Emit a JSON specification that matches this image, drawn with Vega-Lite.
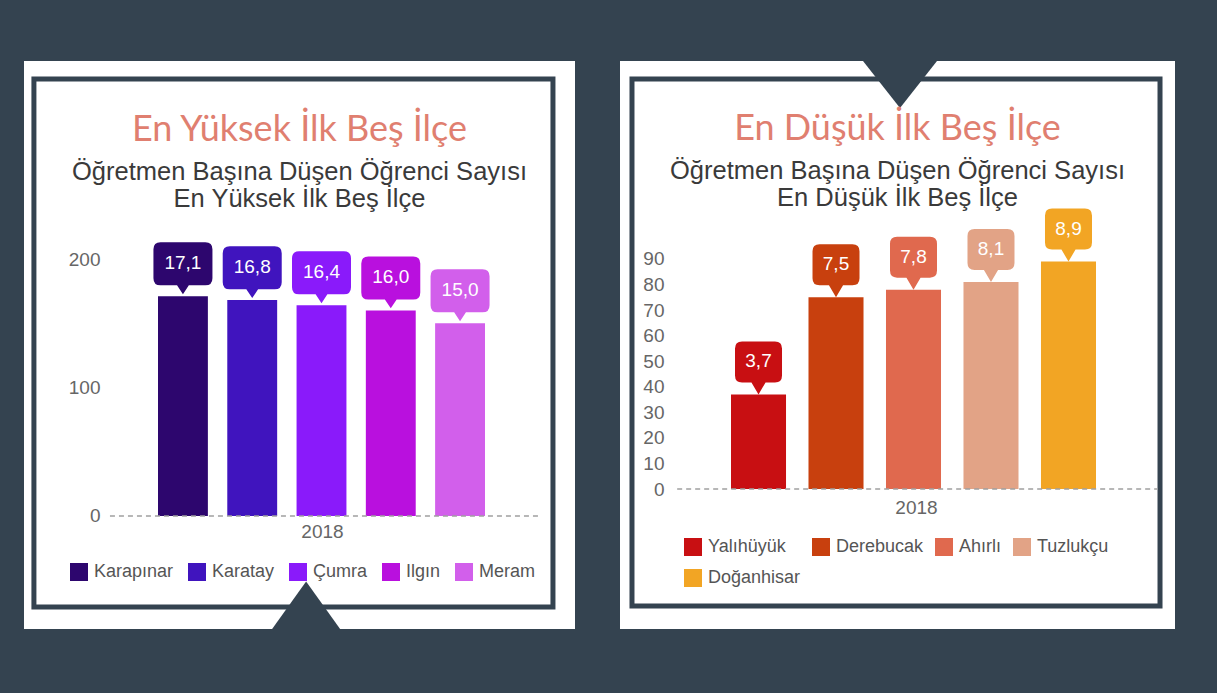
{
  "$schema": "https://vega.github.io/schema/vega-lite/v6.json",
  "background": "#344350",
  "padding": {"left": 24, "top": 60, "right": 42, "bottom": 65},
  "spacing": 45,
  "resolve": {"scale": {"color": "independent"}, "legend": {"color": "independent"}},
  "config": {
    "view": {"fill": "white", "stroke": null},
    "axis": {"labelFont": "Liberation Sans", "titleFont": "Liberation Sans", "grid": false},
    "legend": {"labelFont": "Liberation Sans"},
    "title": {"font": "Lato", "subtitleFont": "Liberation Sans"}
  },
  "hconcat": [
    {
      "width": 551,
      "height": 568,
      "title": {
        "text": "En Yüksek İlk Beş İlçe",
        "subtitle": ["Öğretmen Başına Düşen Öğrenci Sayısı", "En Yüksek İlk Beş İlçe"],
        "anchor": "middle",
        "frame": "group",
        "offset": -152,
        "fontSize": 36,
        "fontWeight": "normal",
        "color": "#e07f70",
        "subtitleFontSize": 25.5,
        "subtitleColor": "#3a3a3a",
        "subtitleLineHeight": 27,
        "subtitlePadding": 11
      },
      "data": {"values": [
        {"ilce": "Karapınar", "deger": 171, "etiket": "17,1"},
        {"ilce": "Karatay", "deger": 168, "etiket": "16,8"},
        {"ilce": "Çumra", "deger": 164, "etiket": "16,4"},
        {"ilce": "Ilgın", "deger": 160, "etiket": "16,0"},
        {"ilce": "Meram", "deger": 150, "etiket": "15,0"}
      ]},
      "resolve": {"scale": {"x": "independent"}, "axis": {"x": "independent", "y": "independent"}},
      "layer": [
        {
          "encoding": {
            "x": {"field": "ilce", "type": "nominal", "sort": null,
              "scale": {"type": "band", "paddingInner": 0.28, "paddingOuter": 0, "range": [134, 461]},
              "axis": {"title": "2018", "labels": false, "ticks": false, "domain": false, "offset": -113, "titlePadding": 6, "titleX": 298, "titleFontSize": 19, "titleFontWeight": "normal", "titleColor": "#666666"}},
            "y": {"field": "deger", "type": "quantitative",
              "scale": {"domain": [-87.94, 354.09], "nice": false, "zero": false},
              "axis": {"values": [0, 100, 200], "title": null, "domain": false, "ticks": false, "tickSize": 0, "labelPadding": 0, "offset": -76, "labelFontSize": 19, "labelColor": "#666666"}}
          },
          "layer": [
            {
              "mark": {"type": "bar"},
              "encoding": {
                "color": {"field": "ilce", "type": "nominal", "sort": null,
                  "scale": {"domain": ["Karapınar", "Karatay", "Çumra", "Ilgın", "Meram"], "range": ["#2d066e", "#4014be", "#8a1afa", "#b910de", "#d25feb"]},
                  "legend": {"orient": "none", "legendX": 46, "legendY": 502, "direction": "horizontal", "columns": 5, "title": null, "symbolType": "square", "symbolSize": 324, "symbolStrokeWidth": 0, "symbolOpacity": 1, "labelFontSize": 18, "labelColor": "#555555", "labelOffset": 6, "columnPadding": 14, "padding": 0}}
              }
            },
            {
              "mark": {"type": "point", "shape": "M0,-0.07L-0.2,-0.37L-0.76,-0.37Q-1,-0.37 -1,-0.61L-1,-1.59Q-1,-1.83 -0.76,-1.83L0.76,-1.83Q1,-1.83 1,-1.59L1,-0.61Q1,-0.37 0.76,-0.37L0.2,-0.37Z", "size": 3481, "filled": true, "opacity": 1, "strokeWidth": 0},
              "encoding": {
                "color": {"field": "ilce", "type": "nominal", "sort": null,
                  "scale": {"domain": ["Karapınar", "Karatay", "Çumra", "Ilgın", "Meram"], "range": ["#2d066e", "#4014be", "#8a1afa", "#b910de", "#d25feb"]},
                  "legend": null}
              }
            },
            {
              "mark": {"type": "text", "dy": -33, "color": "#ffffff", "fontSize": 19, "font": "Liberation Sans", "baseline": "middle"},
              "encoding": {"text": {"field": "etiket"}}
            }
          ]
        },
        {
          "data": {"values": [{}]},
          "layer": [
            {
              "mark": {"type": "rect", "fillOpacity": 0, "stroke": "#344350", "strokeWidth": 5},
              "encoding": {
                "x": {"datum": 0.018, "type": "quantitative", "scale": {"domain": [0, 1], "nice": false, "zero": false}, "axis": null},
                "x2": {"datum": 0.960},
                "y": {"datum": 340.1, "type": "quantitative", "scale": {"domain": [-87.94, 354.09], "nice": false, "zero": false}, "axis": null},
                "y2": {"datum": -70.8}
              }
            },
            {
              "mark": {"type": "rule", "color": "#a0a0a0", "strokeWidth": 1.5, "strokeDash": [5, 4]},
              "encoding": {
                "x": {"datum": 0.156, "type": "quantitative", "scale": {"domain": [0, 1], "nice": false, "zero": false}, "axis": null},
                "x2": {"datum": 0.940},
                "y": {"datum": 0, "type": "quantitative", "scale": {"domain": [-87.94, 354.09], "nice": false, "zero": false}, "axis": null}
              }
            },
            {
              "mark": {"type": "point", "shape": "M-1,0.7L0,-0.7L1,0.7Z", "size": 4624, "filled": true, "opacity": 1, "color": "#344350", "strokeWidth": 0},
              "encoding": {
                "x": {"datum": 0.512, "type": "quantitative", "scale": {"domain": [0, 1], "nice": false, "zero": false}, "axis": null},
                "y": {"datum": -69.4, "type": "quantitative", "scale": {"domain": [-87.94, 354.09], "nice": false, "zero": false}, "axis": null}
              }
            }
          ]
        }
      ]
    },
    {
      "width": 555,
      "height": 568,
      "title": {
        "text": "En Düşük İlk Beş İlçe",
        "subtitle": ["Öğretmen Başına Düşen Öğrenci Sayısı", "En Düşük İlk Beş İlçe"],
        "anchor": "middle",
        "frame": "group",
        "offset": -152,
        "fontSize": 36,
        "fontWeight": "normal",
        "color": "#e07f70",
        "subtitleFontSize": 25.5,
        "subtitleColor": "#3a3a3a",
        "subtitleLineHeight": 27,
        "subtitlePadding": 11
      },
      "data": {"values": [
        {"ilce": "Yalıhüyük", "deger": 37, "etiket": "3,7"},
        {"ilce": "Derebucak", "deger": 75, "etiket": "7,5"},
        {"ilce": "Ahırlı", "deger": 78, "etiket": "7,8"},
        {"ilce": "Tuzlukçu", "deger": 81, "etiket": "8,1"},
        {"ilce": "Doğanhisar", "deger": 89, "etiket": "8,9"}
      ]},
      "resolve": {"scale": {"x": "independent"}, "axis": {"x": "independent", "y": "independent"}},
      "layer": [
        {
          "encoding": {
            "x": {"field": "ilce", "type": "nominal", "sort": null,
              "scale": {"type": "band", "paddingInner": 0.29, "paddingOuter": 0, "range": [111, 476]},
              "axis": {"title": "2018", "labels": false, "ticks": false, "domain": false, "offset": -140, "titlePadding": 9, "titleX": 296, "titleFontSize": 19, "titleFontWeight": "normal", "titleColor": "#666666"}},
            "y": {"field": "deger", "type": "quantitative",
              "scale": {"domain": [-54.77, 167.45], "nice": false, "zero": false},
              "axis": {"values": [0, 10, 20, 30, 40, 50, 60, 70, 80, 90], "title": null, "domain": false, "ticks": false, "tickSize": 0, "labelPadding": 0, "offset": -44, "labelFontSize": 19, "labelColor": "#666666"}}
          },
          "layer": [
            {
              "mark": {"type": "bar"},
              "encoding": {
                "color": {"field": "ilce", "type": "nominal", "sort": null,
                  "scale": {"domain": ["Yalıhüyük", "Derebucak", "Ahırlı", "Tuzlukçu", "Doğanhisar"], "range": ["#c80f12", "#c8400e", "#e0694e", "#e2a386", "#f2a524"]},
                  "legend": {"orient": "none", "legendX": 64, "legendY": 477, "direction": "horizontal", "columns": 4, "title": null, "symbolType": "square", "symbolSize": 324, "symbolStrokeWidth": 0, "symbolOpacity": 1, "labelFontSize": 18, "labelColor": "#555555", "labelOffset": 6, "columnPadding": 11, "rowPadding": 13, "padding": 0}}
              }
            },
            {
              "mark": {"type": "point", "shape": "M0,0L-0.3,-0.51L-0.7,-0.51Q-1,-0.51 -1,-0.81L-1,-1.955Q-1,-2.255 -0.7,-2.255L0.7,-2.255Q1,-2.255 1,-1.955L1,-0.81Q1,-0.51 0.7,-0.51L0.3,-0.51Z", "size": 2209, "filled": true, "opacity": 1, "strokeWidth": 0},
              "encoding": {
                "color": {"field": "ilce", "type": "nominal", "sort": null,
                  "scale": {"domain": ["Yalıhüyük", "Derebucak", "Ahırlı", "Tuzlukçu", "Doğanhisar"], "range": ["#c80f12", "#c8400e", "#e0694e", "#e2a386", "#f2a524"]},
                  "legend": null}
              }
            },
            {
              "mark": {"type": "text", "dy": -33, "color": "#ffffff", "fontSize": 19, "font": "Liberation Sans", "baseline": "middle"},
              "encoding": {"text": {"field": "etiket"}}
            }
          ]
        },
        {
          "data": {"values": [{}]},
          "layer": [
            {
              "mark": {"type": "rect", "fillOpacity": 0, "stroke": "#344350", "strokeWidth": 5},
              "encoding": {
                "x": {"datum": 0.0216, "type": "quantitative", "scale": {"domain": [0, 1], "nice": false, "zero": false}, "axis": null},
                "x2": {"datum": 0.973},
                "y": {"datum": 160.4, "type": "quantitative", "scale": {"domain": [-54.77, 167.45], "nice": false, "zero": false}, "axis": null},
                "y2": {"datum": -45.8}
              }
            },
            {
              "mark": {"type": "rule", "color": "#a0a0a0", "strokeWidth": 1.5, "strokeDash": [5, 4]},
              "encoding": {
                "x": {"datum": 0.103, "type": "quantitative", "scale": {"domain": [0, 1], "nice": false, "zero": false}, "axis": null},
                "x2": {"datum": 0.969},
                "y": {"datum": 0, "type": "quantitative", "scale": {"domain": [-54.77, 167.45], "nice": false, "zero": false}, "axis": null}
              }
            },
            {
              "mark": {"type": "point", "shape": "M-1,-0.635L0,0.635L1,-0.635Z", "size": 5476, "filled": true, "opacity": 1, "color": "#344350", "strokeWidth": 0},
              "encoding": {
                "x": {"datum": 0.5045, "type": "quantitative", "scale": {"domain": [0, 1], "nice": false, "zero": false}, "axis": null},
                "y": {"datum": 158.26, "type": "quantitative", "scale": {"domain": [-54.77, 167.45], "nice": false, "zero": false}, "axis": null}
              }
            }
          ]
        }
      ]
    }
  ]
}
